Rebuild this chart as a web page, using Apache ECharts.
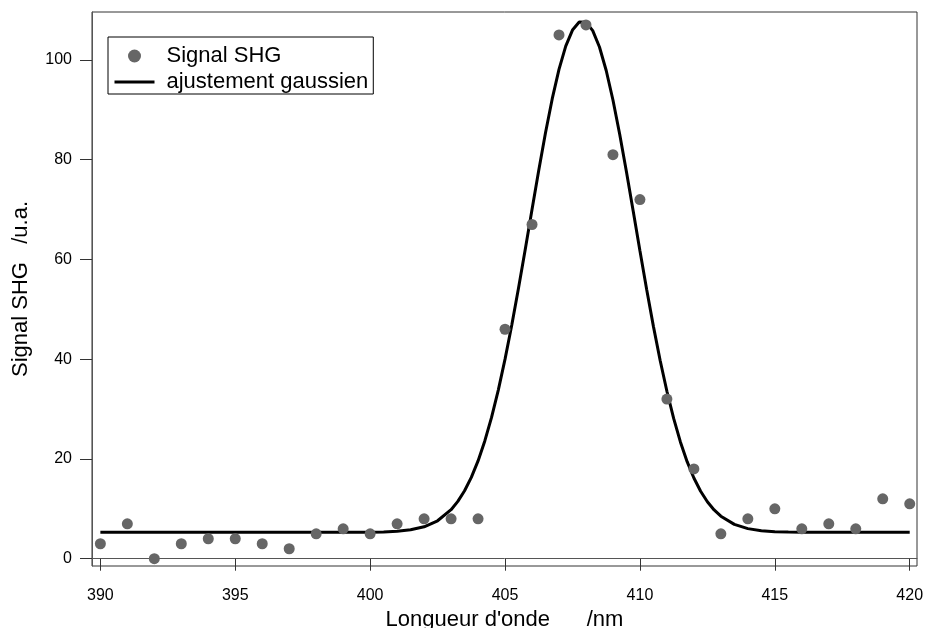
<!DOCTYPE html>
<html>
<head>
<meta charset="utf-8">
<script src="https://cdn.jsdelivr.net/npm/echarts@6/dist/echarts.min.js"></script>
<style>
html,body{margin:0;padding:0;background:#fff;}
#chart{width:925px;height:628px;}
</style>
</head>
<body>
<div id="chart"></div>
<script>
const xValues = [390,391,392,393,394,395,396,397,398,399,400,401,402,403,404,405,406,407,408,409,410,411,412,413,414,415,416,417,418,419,420];
const signalValues = [3,7,0,3,4,4,3,2,5,6,5,7,8,8,8,46,67,105,107,81,72,32,18,5,8,10,6,7,6,12,11];
const fitX = [390,395,400,400.5,401,401.5,402,402.5,
  403,403.25,403.5,403.75,404,404.25,404.5,404.75,405,405.25,405.5,405.75,406,406.25,406.5,406.75,407,407.25,407.5,407.75,
  408,408.25,408.5,408.75,409,409.25,409.5,409.75,410,410.25,410.5,410.75,411,411.25,411.5,411.75,412,412.25,412.5,412.75,413,
  413.5,414,414.5,415,415.5,416,420];
const fitY = [5.3,5.3,5.33,5.38,5.51,5.79,6.40,7.61,
  9.83,11.49,13.62,16.30,19.61,23.61,28.33,33.80,40.01,46.86,54.28,62.06,70.02,77.89,85.38,92.22,98.09,102.75,105.98,107.61,
  107.57,105.87,102.59,97.88,91.96,85.10,77.57,69.70,61.75,53.97,46.58,39.74,33.57,28.12,23.42,19.46,16.18,13.52,11.42,9.78,8.52,
  6.89,6.03,5.62,5.43,5.35,5.31,5.3];
const xTickValues = [390,395,400,405,410,415,420];
const yTickValues = [0,20,40,60,80,100];
const seriesNames = ['Signal SHG','ajustement gaussien'];
const xTitle = "Longueur d'onde      /nm";
const yTitle = "Signal SHG   /u.a.";

const font = "'Liberation Sans', Arial, Helvetica, sans-serif";
const chart = echarts.init(document.getElementById('chart'), null, {renderer:'canvas'});
chart.setOption({
  animation:false,
  backgroundColor:'#fff',
  textStyle:{fontFamily:font},
  grid:{left:92,right:8,top:12,bottom:62,show:true,borderColor:'#333',borderWidth:1,containLabel:false,outerBoundsMode:'none'},
  legend:{
    data:[
      {name:seriesNames[0]},
      {name:seriesNames[1],
       itemStyle:{color:'rgba(0,0,0,0)',borderColor:'rgba(0,0,0,0)',borderWidth:0,opacity:0},
       lineStyle:{color:'#000',width:3,opacity:1}}
    ],
    orient:'vertical',
    left:108, top:37,
    borderColor:'#000', borderWidth:1,
    padding:[7,5,0,5],
    itemWidth:40, itemHeight:13, itemGap:2,
    textStyle:{fontSize:22,lineHeight:24,color:'#000',fontFamily:font,padding:[0,0,0,7]}
  },
  xAxis:{
    type:'value', min:389.69, max:420.27,
    name:xTitle, nameLocation:'middle', nameGap:40,
    nameTextStyle:{fontSize:22,color:'#000',fontFamily:font},
    axisLine:{show:true,lineStyle:{color:'#555',width:1}},
    axisTick:{show:true,inside:false,length:12,lineStyle:{color:'#333'},customValues:xTickValues},
    axisLabel:{show:true,fontSize:16,color:'#000',margin:22,fontFamily:font,customValues:xTickValues},
    splitLine:{show:false}
  },
  yAxis:{
    type:'value', min:-1.46, max:109.6,
    name:yTitle, nameLocation:'middle', nameGap:60,
    nameTextStyle:{fontSize:22,color:'#000',fontFamily:font},
    axisLine:{show:true,lineStyle:{color:'#555',width:1}},
    axisTick:{show:true,inside:false,length:12,lineStyle:{color:'#333'},customValues:yTickValues},
    axisLabel:{show:true,fontSize:16,color:'#000',margin:20,fontFamily:font,customValues:yTickValues},
    splitLine:{show:false}
  },
  series:[
    {
      name:seriesNames[0], type:'scatter',
      data:xValues.map((x,i)=>[x,signalValues[i]]),
      symbol:'circle', symbolSize:11,
      itemStyle:{color:'#666',opacity:1},
      z:3
    },
    {
      name:seriesNames[1], type:'line',
      data:fitX.map((x,i)=>[x,fitY[i]]),
      symbol:'none', showSymbol:false, smooth:false,
      lineStyle:{color:'#000',width:3},
      itemStyle:{color:'#000'},
      z:2
    }
  ]
});
</script>
</body>
</html>
